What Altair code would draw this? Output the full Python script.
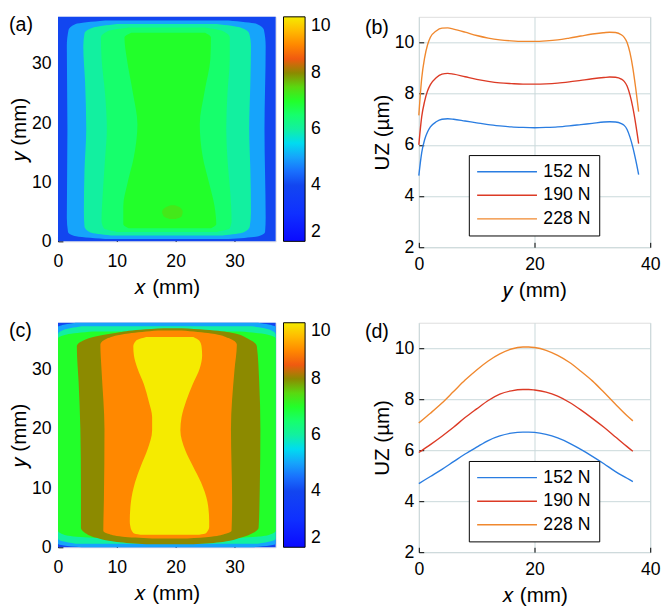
import altair as alt
import pandas as pd

FONT = "Liberation Sans"

# ---------------- colour bar (value -> colour) ----------------
CMAP_VALUES = [2, 3, 4, 4.6, 5, 5.5, 6, 6.5, 7, 7.5, 7.8, 8, 8.5, 9, 9.5, 10]
CMAP_COLORS = ["#0a0aff", "#0f30ff", "#1246f0", "#1a78ff", "#16a4fb", "#00dcf0",
               "#12f0a0", "#16ff6c", "#22ff2a", "#5ad810", "#7a9a00", "#8c8a00",
               "#f05a10", "#ff8800", "#ffba00", "#f5eb00"]
CBAR_TICKS = [2, 4, 6, 8, 10]

# ---------------- panel (a): filled contour bands (152 N) ----------------
# each band: level value, boundary rows (y mm, left x mm, right x mm)
A_LEVELS = [4.0, 5.0, 6.0, 6.5, 7.0, 7.3]
A_Y = [
    [0, 38],
    [0.4, 0.9, 1.6, 4, 19, 33, 35.8, 36.8, 37.4],
    [1.0, 1.5, 2.5, 5, 12, 19, 27, 33, 35.2, 36.2, 36.8],
    [1.6, 2.2, 3.5, 8, 14, 19, 25, 31, 34.5, 35.6, 36.2],
    [2.2, 2.9, 6, 9.8, 14.3, 19.8, 25.3, 30.9, 34.5, 35.3],
    [3.8, 4.2, 5.0, 5.7, 6.1],
]
A_XL = [
    [0, 0],
    [8, 2.8, 1.7, 1.5, 1.6, 1.5, 1.8, 3.0, 8],
    [9, 5.5, 4.5, 4.4, 4.5, 4.8, 4.6, 4.3, 4.5, 6, 10],
    [10, 7.8, 7.4, 7.6, 8.0, 8.3, 8.0, 7.4, 7.3, 8.5, 12],
    [12, 11.1, 11.1, 11.8, 12.9, 13.5, 12.7, 11.7, 11.3, 12.5],
    [19, 18, 17.7, 18.2, 19.2],
]
A_XR = [
    [37, 37],
    [29, 34.2, 35.2, 35.3, 35.1, 35.3, 35.0, 33.8, 29],
    [28, 31.5, 32.6, 32.8, 32.7, 32.5, 32.7, 32.8, 32.5, 31, 27],
    [27, 29.2, 29.5, 29.3, 28.8, 28.6, 28.8, 29.2, 29.2, 28, 25],
    [26, 26.9, 26.6, 25.7, 24.6, 24.1, 24.9, 25.9, 26.0, 25],
    [20, 21, 21.2, 20.8, 19.8],
]

# ---------------- panel (c): filled contour bands (228 N) ----------------
C_LEVELS = [4.0, 5.0, 6.0, 7.0, 8.0, 9.0, 10.0]
C_Y = [
    [0, 38],
    [0, 0.3, 0.6, 37.3, 37.7, 38],
    [0.6, 1.0, 1.5, 36.0, 36.8, 37.4],
    [1.6, 2.0, 2.8, 35.3, 36.0, 36.5],
    [0.5, 0.9, 1.6, 2.5, 3.3, 10, 20, 28, 34.0, 35.3, 36.3, 36.8, 37.05],
    [1.5, 1.8, 2.3, 2.8, 8, 20, 30, 34.3, 35.4, 36.2, 36.7],
    [2.1, 2.4, 3.5, 4.4, 7.7, 11, 13.8, 16.5, 19.8, 22, 24.8, 27.6, 30.3, 32.5, 34.0, 35.0, 35.6],
]
C_XL = [
    [0, 0],
    [4, 1, 0, 0, 1.2, 3],
    [3, 0.8, 0, 0, 1, 4],
    [6, 1.5, 0, 0, 1.5, 6],
    [15, 10, 6.5, 4.5, 3.9, 3.9, 3.8, 3.5, 3.2, 5, 10, 14, 18],
    [16, 11, 8.5, 7.7, 7.8, 7.9, 7.4, 7.2, 8.5, 12, 17],
    [14, 12.8, 12.3, 12.2, 12.4, 13.1, 14.1, 15.2, 16.0, 16.0, 15.4, 14.6, 13.5, 12.9, 12.8, 13.3, 15],
]
C_XR = [
    [37, 37],
    [33, 36, 37, 37, 35.8, 34],
    [34, 36.2, 37, 37, 36, 33],
    [31, 35.5, 37, 37, 35.5, 31],
    [23, 28, 31, 33.3, 34.1, 34.3, 34.4, 34.2, 33.8, 32.3, 29.5, 25, 21],
    [22, 26, 28.5, 29.5, 29.6, 29.4, 30.0, 30.4, 29, 26, 21],
    [24, 25.2, 25.7, 25.7, 25.4, 24.3, 22.9, 21.6, 20.8, 21.0, 21.8, 22.9, 24.1, 24.5, 24.4, 24.0, 23],
]

# ---------------- panel (b): UZ along y ----------------
LOADS = ["152 N", "190 N", "228 N"]
LINE_COLORS = ["#2a7de1", "#dc3a25", "#f0882e"]
B_POS = [0, 0.5, 1, 1.5, 2, 3, 4, 5, 6, 8, 10, 12, 14, 16, 18, 20, 22, 24, 26, 28,
         30, 32, 33, 34, 35, 35.5, 36, 36.5, 37, 37.5, 38]
B_152 = [4.8, 5.7, 6.2, 6.5, 6.7, 6.9, 7.0, 7.02, 7.0, 6.93, 6.86, 6.79, 6.74, 6.7, 6.68,
         6.67, 6.68, 6.7, 6.74, 6.79, 6.84, 6.89, 6.9, 6.89, 6.83, 6.76, 6.6, 6.3, 5.9, 5.4, 4.84]
B_190 = [6.0, 7.1, 7.7, 8.1, 8.35, 8.62, 8.76, 8.79, 8.76, 8.66, 8.56, 8.48, 8.42, 8.39, 8.37,
         8.37, 8.38, 8.41, 8.46, 8.52, 8.58, 8.63, 8.65, 8.64, 8.57, 8.48, 8.3, 7.95, 7.45, 6.8, 6.05]
B_228 = [7.15, 8.6, 9.4, 9.9, 10.2, 10.45, 10.56, 10.57, 10.52, 10.4, 10.27, 10.17, 10.1, 10.06,
         10.04, 10.04, 10.06, 10.1, 10.17, 10.25, 10.33, 10.38, 10.4, 10.39, 10.3, 10.2, 10.0, 9.6,
         9.0, 8.2, 7.3]

# ---------------- panel (d): UZ along x ----------------
D_POS = [0, 2, 4, 6, 8, 10, 12, 14, 16, 18, 19, 20, 22, 24, 26, 28, 30, 32, 34, 36, 37]
D_152 = [4.69, 4.97, 5.25, 5.55, 5.85, 6.12, 6.38, 6.56, 6.67, 6.71, 6.71, 6.7, 6.62, 6.48,
         6.28, 6.03, 5.76, 5.47, 5.16, 4.9, 4.77]
D_190 = [5.91, 6.22, 6.55, 6.9, 7.28, 7.62, 7.95, 8.2, 8.33, 8.38, 8.38, 8.36, 8.28, 8.12,
         7.88, 7.58, 7.25, 6.9, 6.52, 6.14, 5.96]
D_228 = [7.07, 7.45, 7.85, 8.3, 8.75, 9.15, 9.5, 9.78, 9.97, 10.05, 10.05, 10.03, 9.92, 9.72,
         9.45, 9.1, 8.72, 8.27, 7.8, 7.35, 7.15]

GRID_COLOR = "#c9d8da"
MAP_W, MAP_H = 222, 229
LINE_W = 236
TICK_FS, TITLE_FS, PANEL_FS = 18, 21, 20


def in_ticks(**kw):
    # inward ticks: axis line moved inside by the tick length
    base = dict(offset=-5, tickSize=5, tickColor="black", domain=False, labelFlush=False,
                labelFont=FONT, titleFont=FONT, labelFontSize=TICK_FS, titleFontSize=TITLE_FS,
                labelColor="black", titleColor="black", titleFontWeight="normal")
    base.update(kw)
    return alt.Axis(**base)


def panel_title(label, dx, off):
    return alt.TitleParams(label, anchor="start", frame="group", dx=dx, offset=off,
                           font=FONT, fontSize=PANEL_FS, fontWeight="normal", color="black")


def contour_panel(levels, ys, xls, xrs, label, title_off):
    rows = []
    for i, (lv, yy, xl, xr) in enumerate(zip(levels, ys, xls, xrs)):
        for a, b, c in zip(yy, xl, xr):
            rows.append({"band": i, "level": lv, "y": a, "xl": b, "xr": c})
    df = pd.DataFrame(rows)
    x_enc = alt.X("xl:Q", stack=None,
                  scale=alt.Scale(domain=[0, 37], nice=False, zero=False),
                  axis=in_ticks(values=[0, 10, 20, 30], title="𝑥 (mm)", grid=False,
                                labelPadding=12, titlePadding=6))
    y_enc = alt.Y("y:Q", scale=alt.Scale(domain=[0, 38], nice=False, zero=False),
                  axis=in_ticks(values=[0, 10, 20, 30], title="𝑦 (mm)", grid=False,
                                labelPadding=7, titlePadding=2))
    c_enc = alt.Color("level:Q",
                      scale=alt.Scale(domain=CMAP_VALUES, range=CMAP_COLORS, interpolate="rgb"),
                      legend=alt.Legend(title=None, orient="right", offset=8, padding=0,
                                        gradientLength=MAP_H, gradientThickness=22,
                                        gradientStrokeColor="black", gradientStrokeWidth=1,
                                        values=CBAR_TICKS, labelFont=FONT, labelFontSize=TICK_FS,
                                        labelColor="black", labelOffset=6))
    layers = []
    for i in range(len(levels)):
        layers.append(
            alt.Chart(df).transform_filter(alt.datum.band == i)
            .mark_area(orient="horizontal", interpolate="monotone")
            .encode(x=x_enc, x2="xr:Q", y=y_enc, color=c_enc)
        )
    return alt.layer(*layers).properties(
        width=MAP_W, height=MAP_H, title=panel_title(label, -50, title_off)
    )


def line_panel(pos, series, xtitle, label, title_off, height):
    rows = []
    for load, vals in zip(LOADS, series):
        for p, v in zip(pos, vals):
            rows.append({"pos": p, "uz": v, "load": load})
    df = pd.DataFrame(rows)
    return alt.Chart(df).mark_line(strokeWidth=1.4, interpolate="monotone").encode(
        x=alt.X("pos:Q", scale=alt.Scale(domain=[0, 40], nice=False),
                axis=in_ticks(values=[0, 20, 40], title=xtitle, grid=True,
                              gridColor=GRID_COLOR, labelPadding=9, titlePadding=6)),
        y=alt.Y("uz:Q", scale=alt.Scale(domain=[2, 11], nice=False, zero=False),
                axis=in_ticks(values=[2, 4, 6, 8, 10], title="UZ (µm)", grid=True,
                              gridColor=GRID_COLOR, labelPadding=5, titlePadding=2)),
        color=alt.Color("load:N", scale=alt.Scale(domain=LOADS, range=LINE_COLORS),
                        legend=alt.Legend(title=None, orient="none", legendX=51, legendY=141,
                                          strokeColor="black", fillColor="white", padding=8,
                                          symbolType="M-1.7,0H10.5", symbolSize=100,
                                          symbolStrokeWidth=1.4, labelFont=FONT,
                                          labelFontSize=18, labelColor="black",
                                          labelOffset=50, rowPadding=6)),
    ).properties(width=LINE_W, height=height, title=panel_title(label, -55, title_off))


pa = contour_panel(A_LEVELS, A_Y, A_XL, A_XR, "(a)", -18)
pc = contour_panel(C_LEVELS, C_Y, C_XL, C_XR, "(c)", -19)
pb = line_panel(B_POS, [B_152, B_190, B_228], "𝑦 (mm)", "(b)", -22, 235)
pd_ = line_panel(D_POS, [D_152, D_190, D_228], "𝑥 (mm)", "(d)", -20, 234)

top = alt.hconcat(pa, pb, spacing=32).resolve_scale(color="independent")
bottom = alt.hconcat(pc, pd_, spacing=32).resolve_scale(color="independent")
chart = (
    alt.vconcat(top, bottom, spacing=20)
    .resolve_scale(color="independent")
    .properties(padding={"left": 0, "top": 0, "right": 0, "bottom": 0})
    .configure_view(stroke="black", strokeWidth=1)
    .configure(background="white")
)

chart.save("out.html", embed_options={"renderer": "svg", "actions": False})
